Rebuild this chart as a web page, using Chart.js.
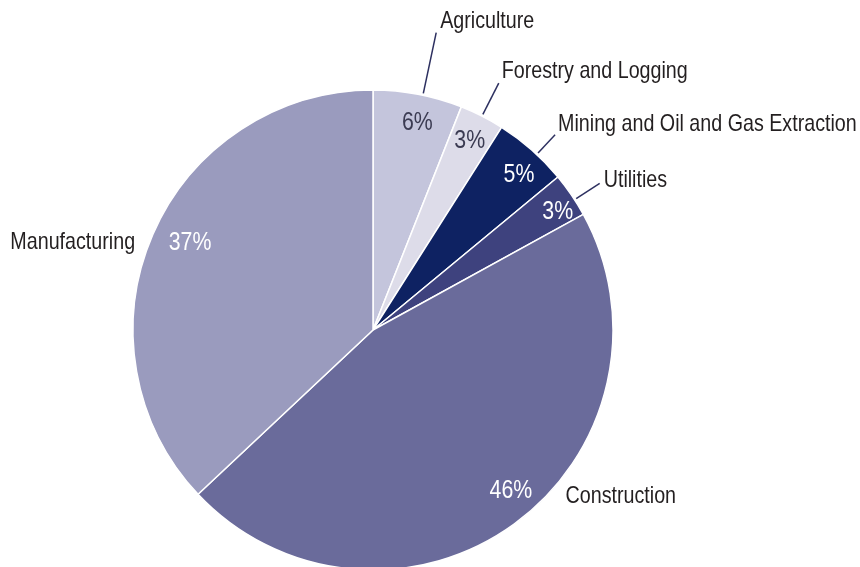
<!DOCTYPE html>
<html lang="en">
<head>
    <meta charset="UTF-8">
    <title>Employment by Industry</title>
    <script src="https://cdn.jsdelivr.net/npm/chart.js"></script>
    <style>
        body {
            margin: 0;
            padding: 0;
            background-color: #ffffff;
            overflow: hidden;
        }
        .chart-box {
            width: 860px;
            height: 570px;
        }
    </style>
</head>
<body>
    <div class="chart-box">
        <canvas id="industryChart" width="860" height="570"></canvas>
    </div>

    <script>
        // Chart data
        const industries = ["Agriculture", "Forestry and Logging", "Mining and Oil and Gas Extraction", "Utilities", "Construction", "Manufacturing"];
        const shares = [6, 3, 5, 3, 46, 37];
        const sliceColors = ['#c4c5dc', '#dddce9', '#0e2262', '#3e427e', '#6a6b9b', '#9a9bbe'];
        const percentColors = ['#3b3b52', '#3b3b52', '#ffffff', '#ffffff', '#ffffff', '#ffffff'];

        const FONT = "'Liberation Sans', Arial, sans-serif";
        const NARROW = 0.82; // horizontal squeeze, gives an Arial Narrow look

        // Per-slice label placement (degrees / pixels)
        // shift: nudge of the label angle from the slice middle
        // pctR: radius of the percentage text
        // r0/r1: leader line start/end radius (r1 = 0 means no leader)
        // textR: radius of the name anchor when there is no leader
        const placement = [
            { shift: 1.2,  pctR: 213, r0: 242, r1: 304, dx: 4, dy: -11, align: 'left' },
            { shift: 0,    pctR: 213, r0: 242, r1: 277, dx: 3, dy: -12, align: 'left' },
            { shift: 1.6,  pctR: 214, r0: 242, r1: 267, dx: 3, dy: -10, align: 'left' },
            { shift: 1.3,  pctR: 220, r0: 242, r1: 270, dx: 4, dy: -3,  align: 'left' },
            { shift: -4.8, pctR: 211, r1: 0, nameShift: -13.3, textR: 254, align: 'left' },
            { shift: 2.3,  pctR: 203, r1: 0, nameShift: -2.9,  textR: 254, align: 'right' }
        ];

        function narrowText(ctx, text, x, y) {
            ctx.save();
            ctx.translate(x, y);
            ctx.scale(NARROW, 1);
            ctx.fillText(text, 0, 0);
            ctx.restore();
        }

        const pieLabels = {
            id: 'pieLabels',
            afterDatasetsDraw(chart) {
                const ctx = chart.ctx;
                const arcs = chart.getDatasetMeta(0).data;
                const deg = Math.PI / 180;
                ctx.save();
                arcs.forEach((arc, i) => {
                    const { x, y, startAngle, endAngle } = arc.getProps(['x', 'y', 'startAngle', 'endAngle'], true);
                    const p = placement[i];
                    const mid = (startAngle + endAngle) / 2;
                    const a = mid + p.shift * deg;

                    // percentage inside the slice
                    ctx.font = '26px ' + FONT;
                    ctx.fillStyle = percentColors[i];
                    ctx.textAlign = 'center';
                    ctx.textBaseline = 'middle';
                    narrowText(ctx, shares[i] + '%', x + Math.cos(a) * p.pctR, y + Math.sin(a) * p.pctR + 1);

                    // industry name, with a leader line for the thin slices
                    ctx.font = '24px ' + FONT;
                    ctx.fillStyle = '#231f20';
                    ctx.textAlign = p.align;
                    let tx, ty;
                    if (p.r1 > 0) {
                        const x0 = x + Math.cos(a) * p.r0, y0 = y + Math.sin(a) * p.r0;
                        const x1 = x + Math.cos(a) * p.r1, y1 = y + Math.sin(a) * p.r1;
                        ctx.strokeStyle = '#2d3060';
                        ctx.lineWidth = 1.5;
                        ctx.beginPath();
                        ctx.moveTo(x0, y0);
                        ctx.lineTo(x1, y1);
                        ctx.stroke();
                        tx = x1 + p.dx;
                        ty = y1 + p.dy;
                    } else {
                        const na = mid + p.nameShift * deg;
                        tx = x + Math.cos(na) * p.textR;
                        ty = y + Math.sin(na) * p.textR + 1;
                    }
                    narrowText(ctx, industries[i], tx, ty);
                });
                ctx.restore();
            }
        };

        new Chart(document.getElementById('industryChart'), {
            type: 'pie',
            data: {
                labels: industries,
                datasets: [{
                    data: shares,
                    backgroundColor: sliceColors,
                    borderColor: '#ffffff',
                    borderWidth: 1.5
                }]
            },
            options: {
                responsive: false,
                animation: false,
                radius: 240,
                layout: {
                    padding: { top: 90, bottom: 0, left: 133, right: 247 }
                },
                plugins: {
                    legend: { display: false },
                    tooltip: { enabled: false }
                }
            },
            plugins: [pieLabels]
        });
    </script>
</body>
</html>
